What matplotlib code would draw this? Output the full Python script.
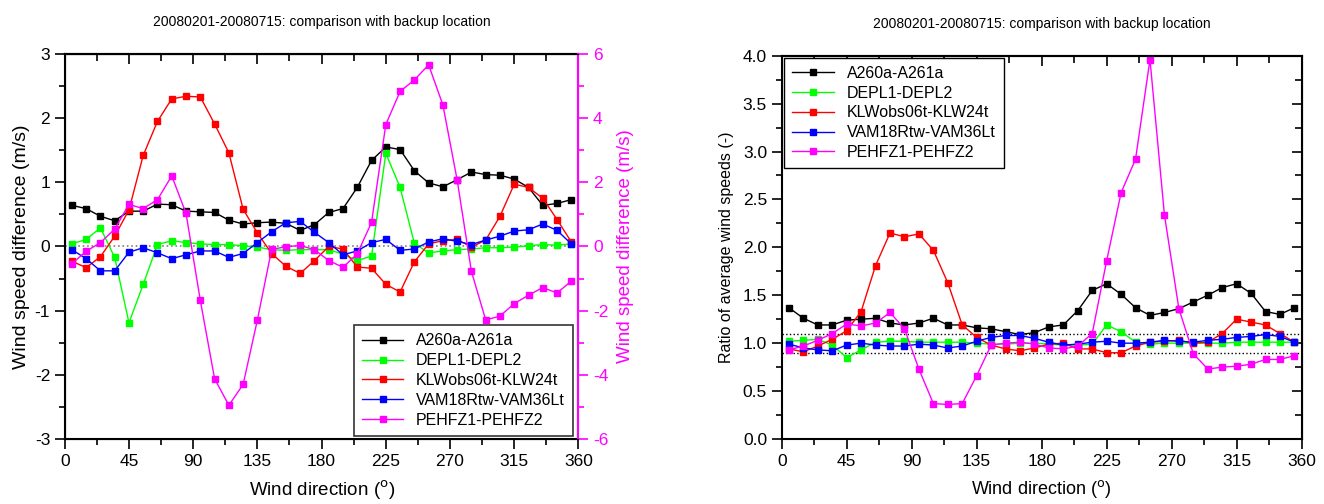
import numpy as np
import matplotlib
matplotlib.use("Agg")
import matplotlib.pyplot as plt
from matplotlib.ticker import MultipleLocator, FormatStrFormatter

plt.rcParams['font.family'] = ['Liberation Sans', 'DejaVu Sans']
plt.rcParams['axes.unicode_minus'] = False

# --- data (wind direction bins, 10 degrees) ---
direction = np.arange(5, 360, 10)

names = ['A260a-A261a', 'DEPL1-DEPL2', 'KLWobs06t-KLW24t', 'VAM18Rtw-VAM36Lt', 'PEHFZ1-PEHFZ2']
colors = ['black', '#00ff00', '#ff0000', '#0000ff', '#ff00ff']

# difference (m/s); PEHFZ on the right axis
diff_a260 = [0.64, 0.59, 0.47, 0.40, 0.55, 0.55, 0.66, 0.65, 0.55, 0.54, 0.53, 0.41,
             0.35, 0.37, 0.38, 0.36, 0.25, 0.34, 0.53, 0.59, 0.92, 1.34, 1.55, 1.51,
             1.18, 0.99, 0.93, 1.04, 1.16, 1.12, 1.11, 1.05, 0.92, 0.64, 0.67, 0.73]
diff_depl = [0.04, 0.11, 0.29, -0.17, -1.19, -0.59, 0.03, 0.09, 0.06, 0.04, 0.03, 0.03,
             0.01, -0.01, -0.05, -0.06, -0.05, -0.05, -0.05, -0.12, -0.22, -0.15, 1.45, 0.92,
             0.05, -0.10, -0.07, -0.05, -0.04, -0.02, -0.02, -0.01, 0.01, 0.03, 0.02, 0.04]
diff_klw = [-0.23, -0.33, -0.16, 0.16, 0.57, 1.42, 1.95, 2.30, 2.34, 2.33, 1.91, 1.46,
            0.58, 0.21, -0.11, -0.31, -0.42, -0.22, 0.00, -0.04, -0.32, -0.34, -0.59, -0.71,
            -0.24, 0.04, 0.09, 0.11, -0.01, 0.10, 0.47, 0.97, 0.92, 0.75, 0.42, 0.07]
diff_vam = [-0.05, -0.19, -0.38, -0.38, -0.09, -0.02, -0.10, -0.19, -0.13, -0.07, -0.07, -0.17,
            -0.11, 0.06, 0.23, 0.37, 0.39, 0.22, 0.06, -0.13, -0.07, 0.06, 0.11, -0.06,
            -0.04, 0.07, 0.12, 0.08, 0.03, 0.10, 0.16, 0.24, 0.26, 0.35, 0.25, 0.04]
diff_pehfz = [-0.54, -0.15, 0.12, 0.54, 1.31, 1.18, 1.46, 2.20, 1.03, -1.68, -4.12, -4.95,
              -4.30, -2.29, -0.09, -0.01, 0.03, -0.10, -0.44, -0.65, -0.23, 0.75, 3.80, 4.83,
              5.19, 5.66, 4.41, 2.07, -0.78, -2.29, -2.17, -1.78, -1.52, -1.28, -1.45, -1.08]

# ratio of average wind speeds
ratio_a260 = [1.37, 1.26, 1.19, 1.19, 1.24, 1.25, 1.26, 1.21, 1.19, 1.21, 1.26, 1.19,
              1.19, 1.16, 1.15, 1.12, 1.09, 1.11, 1.17, 1.19, 1.34, 1.55, 1.62, 1.51,
              1.37, 1.29, 1.32, 1.36, 1.43, 1.50, 1.58, 1.62, 1.52, 1.33, 1.30, 1.37]
ratio_depl = [1.02, 1.03, 1.04, 0.98, 0.85, 0.93, 1.01, 1.02, 1.02, 1.01, 1.01, 1.01,
              1.01, 1.00, 0.99, 0.99, 1.00, 1.00, 0.99, 0.98, 0.98, 0.99, 1.19, 1.12,
              1.01, 0.99, 1.00, 1.00, 1.00, 1.00, 1.00, 1.01, 1.01, 1.01, 1.01, 1.01]
ratio_klw = [0.94, 0.91, 0.97, 1.04, 1.13, 1.33, 1.81, 2.15, 2.11, 2.14, 1.97, 1.63,
             1.19, 1.06, 0.98, 0.94, 0.92, 0.95, 0.99, 1.00, 0.94, 0.94, 0.90, 0.90,
             0.97, 1.01, 1.02, 1.03, 1.00, 1.01, 1.10, 1.25, 1.22, 1.19, 1.10, 1.01]
ratio_vam = [0.99, 0.95, 0.93, 0.92, 0.98, 1.00, 0.98, 0.97, 0.97, 0.99, 0.98, 0.95,
             0.97, 1.02, 1.06, 1.08, 1.08, 1.05, 1.01, 0.98, 0.99, 1.01, 1.02, 1.00,
             1.00, 1.01, 1.03, 1.02, 1.01, 1.03, 1.04, 1.06, 1.07, 1.09, 1.07, 1.01]
ratio_pehfz = [0.93, 0.97, 1.03, 1.10, 1.20, 1.18, 1.21, 1.32, 1.15, 0.73, 0.37, 0.36,
               0.37, 0.66, 0.98, 1.00, 1.01, 0.99, 0.95, 0.94, 0.97, 1.10, 1.86, 2.57,
               2.92, 3.96, 2.34, 1.36, 0.89, 0.73, 0.75, 0.76, 0.78, 0.83, 0.83, 0.87]

title = '20080201-20080715: comparison with backup location'
xlabel = r'Wind direction ($^{\rm o}$)'

fig = plt.figure(figsize=(13.24, 5.04), dpi=100)
ax1 = fig.add_axes([0.0489, 0.129, 0.388, 0.764])
ax2 = fig.add_axes([0.5904, 0.129, 0.3927, 0.7605])
ax1r = ax1.twinx()

mk = dict(marker='s', markersize=4.5, linewidth=1)

# left panel: differences
lines = []
for y, c, n in zip([diff_a260, diff_depl, diff_klw, diff_vam], colors[:4], names[:4]):
    l, = ax1.plot(direction, y, color=c, label=n, **mk)
    lines.append(l)
l, = ax1r.plot(direction, diff_pehfz, color=colors[4], label=names[4], **mk)
lines.append(l)
ax1.axhline(0, color='gray', linestyle=':', linewidth=1.2, zorder=0)

ax1.set_xlim(0, 360)
ax1.set_ylim(-3, 3)
ax1r.set_ylim(-6, 6)
ax1.set_title(title, fontsize=10, pad=20)
ax1.set_xlabel(xlabel, fontsize=13.5, labelpad=7)
ax1.set_ylabel('Wind speed difference (m/s)', fontsize=14, labelpad=3)
ax1r.set_ylabel('Wind speed difference (m/s)', fontsize=13.5, color='#ff00ff', labelpad=6)
ax1.yaxis.set_major_locator(MultipleLocator(1))
ax1.yaxis.set_minor_locator(MultipleLocator(0.5))
ax1r.yaxis.set_major_locator(MultipleLocator(2))
ax1r.yaxis.set_minor_locator(MultipleLocator(1))
ax1r.spines['right'].set_color('#ff00ff')
ax1r.spines['right'].set_linewidth(1.5)
ax1r.tick_params(axis='y', which='both', colors='#ff00ff', direction='out', labelsize=12.5, width=1.2)
ax1r.tick_params(axis='y', which='major', length=7)
ax1r.tick_params(axis='y', which='minor', length=4)

leg = ax1.legend(lines, names, loc='lower right', fontsize=11.5, handlelength=2.6,
                 fancybox=False, edgecolor='#333333', framealpha=1, borderpad=0.5,
                 labelspacing=0.3, bbox_to_anchor=(1.005, -0.012))
leg.get_frame().set_linewidth(1.2)

# right panel: ratios
for y, c, n in zip([ratio_a260, ratio_depl, ratio_klw, ratio_vam, ratio_pehfz], colors, names):
    ax2.plot(direction, y, color=c, label=n, **mk)
ax2.axhline(1.1, color='black', linestyle=':', linewidth=1, zorder=0)
ax2.axhline(0.9, color='black', linestyle=':', linewidth=1, zorder=0)
ax2.set_xlim(0, 360)
ax2.set_ylim(0, 4)
ax2.set_title(title, fontsize=10, pad=20)
ax2.set_xlabel(xlabel, fontsize=13, labelpad=7)
ax2.set_ylabel('Ratio of average wind speeds (-)', fontsize=11.5, labelpad=6)
ax2.yaxis.set_major_locator(MultipleLocator(0.5))
ax2.yaxis.set_minor_locator(MultipleLocator(0.25))
ax2.yaxis.set_major_formatter(FormatStrFormatter('%.1f'))
leg2 = ax2.legend(loc='upper left', fontsize=11.5, handlelength=2.6,
                  fancybox=False, edgecolor='black', framealpha=1, borderpad=0.5,
                  labelspacing=0.3, bbox_to_anchor=(-0.01, 1.015))
leg2.get_frame().set_linewidth(1)

for ax in (ax1, ax2):
    ax.xaxis.set_major_locator(MultipleLocator(45))
    ax.xaxis.set_minor_locator(MultipleLocator(22.5))
    ax.tick_params(axis='both', which='both', labelsize=12.5, direction='out', width=1.2)
    ax.tick_params(axis='both', which='major', length=7)
    ax.tick_params(axis='both', which='minor', length=4)
    for s in ax.spines.values():
        s.set_linewidth(1.5)
    # mirrored ticks on top pointing inward
    top = ax.secondary_xaxis('top')
    top.xaxis.set_major_locator(MultipleLocator(45))
    top.xaxis.set_minor_locator(MultipleLocator(22.5))
    top.tick_params(axis='x', which='both', direction='in', labeltop=False, width=1.2)
    top.tick_params(axis='x', which='major', length=7)
    top.tick_params(axis='x', which='minor', length=5)
    top.spines['top'].set_linewidth(1.5)

# mirrored y ticks on the right panel, pointing inward
right = ax2.secondary_yaxis('right')
right.yaxis.set_major_locator(MultipleLocator(0.5))
right.yaxis.set_minor_locator(MultipleLocator(0.25))
right.tick_params(axis='y', which='both', direction='in', labelright=False, width=1.2)
right.tick_params(axis='y', which='major', length=7)
right.tick_params(axis='y', which='minor', length=5)

fig.savefig('out.png', dpi=100)
